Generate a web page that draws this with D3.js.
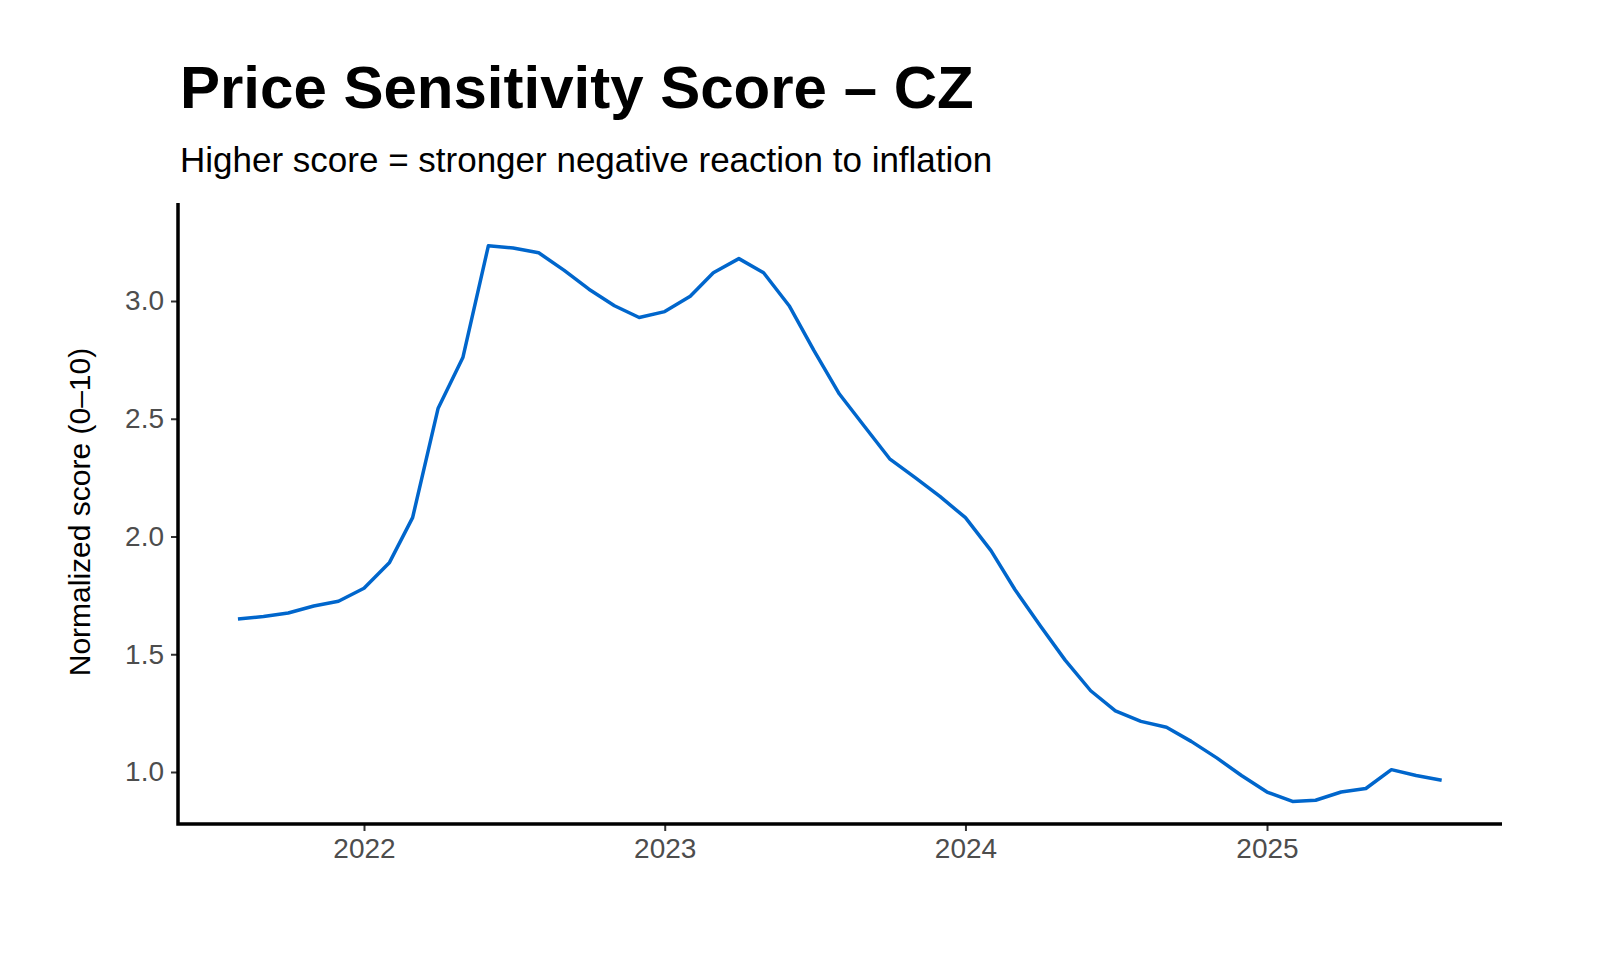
<!DOCTYPE html>
<html>
<head>
<meta charset="utf-8">
<script src="https://cdn.jsdelivr.net/npm/d3@7"></script>
<style>
  body { margin: 0; background: #fff; }
  text { font-family: "Liberation Sans", Arial, sans-serif; }
</style>
</head>
<body>
<svg id="chart" width="1600" height="960"></svg>
<script>
// monthly, Aug 2021 .. Aug 2025
var startMonth = new Date(2021, 7, 1);
var scores = [1.65, 1.66, 1.675, 1.705, 1.725, 1.78, 1.89, 2.08, 2.545, 2.76,
  3.235, 3.225, 3.205, 3.13, 3.05, 2.98, 2.93, 2.955, 3.02, 3.12,
  3.18, 3.12, 2.98, 2.79, 2.605, 2.465, 2.33, 2.25, 2.17, 2.08,
  1.94, 1.775, 1.62, 1.475, 1.345, 1.26, 1.215, 1.19, 1.13, 1.06,
  0.985, 0.915, 0.875, 0.88, 0.915, 0.93, 1.01, 0.985, 0.965];
var yTicks = [1.0, 1.5, 2.0, 2.5, 3.0];
var xTicks = [2022, 2023, 2024, 2025];

var data = scores.map(function(v, i) {
    return { date: new Date(startMonth.getFullYear(), startMonth.getMonth() + i, 1), value: v };
});

var LEFT = 178, RIGHT = 1502, TOP = 203, BOTTOM = 824;

var svg = d3.select('#chart');

var x = d3.scaleTime()
    .domain([new Date(2022, 0, 1), new Date(2025, 0, 1)])
    .range([364, 1267]);
x.domain([x.invert(LEFT), x.invert(RIGHT)]).range([LEFT, RIGHT]);

var y = d3.scaleLinear().domain([1.0, 3.0]).range([772, 301]);
y.domain([y.invert(BOTTOM), y.invert(TOP)]).range([BOTTOM, TOP]);

// axes
var xAxis = svg.append('g')
    .attr('transform', 'translate(0,' + BOTTOM + ')')
    .call(d3.axisBottom(x)
        .tickValues(xTicks.map(function(yr) { return new Date(yr, 0, 1); }))
        .tickFormat(d3.timeFormat('%Y'))
        .tickSizeOuter(0).tickSize(7).tickPadding(7));

var yAxis = svg.append('g')
    .attr('transform', 'translate(' + LEFT + ',0)')
    .call(d3.axisLeft(y)
        .tickValues(yTicks)
        .tickFormat(d3.format('.1f'))
        .tickSizeOuter(0).tickSize(7).tickPadding(7));

[xAxis, yAxis].forEach(function(ax) {
    ax.select('.domain').remove();
    ax.selectAll('.tick line').attr('stroke', '#333').attr('stroke-width', 2);
    ax.selectAll('.tick text').attr('fill', '#4d4d4d').style('font-size', '28px');
});

svg.append('path')
    .attr('d', 'M' + LEFT + ',' + TOP + 'V' + BOTTOM + 'H' + RIGHT)
    .attr('fill', 'none').attr('stroke', '#000').attr('stroke-width', 3.5);

// line
svg.append('path')
    .datum(data)
    .attr('fill', 'none')
    .attr('stroke', '#0066cc')
    .attr('stroke-width', 3.5)
    .attr('stroke-linejoin', 'round')
    .attr('d', d3.line()
        .x(function(d) { return x(d.date); })
        .y(function(d) { return y(d.value); }));

// titles
svg.append('text')
    .attr('x', 180).attr('y', 108)
    .style('font-size', '60px').style('font-weight', 'bold')
    .text('Price Sensitivity Score – CZ');

svg.append('text')
    .attr('x', 180).attr('y', 172)
    .style('font-size', '35px')
    .text('Higher score = stronger negative reaction to inflation');

svg.append('text')
    .attr('transform', 'translate(90,' + 512 + ') rotate(-90)')
    .attr('text-anchor', 'middle')
    .style('font-size', '30px')
    .text('Normalized score (0–10)');
</script>
</body>
</html>
